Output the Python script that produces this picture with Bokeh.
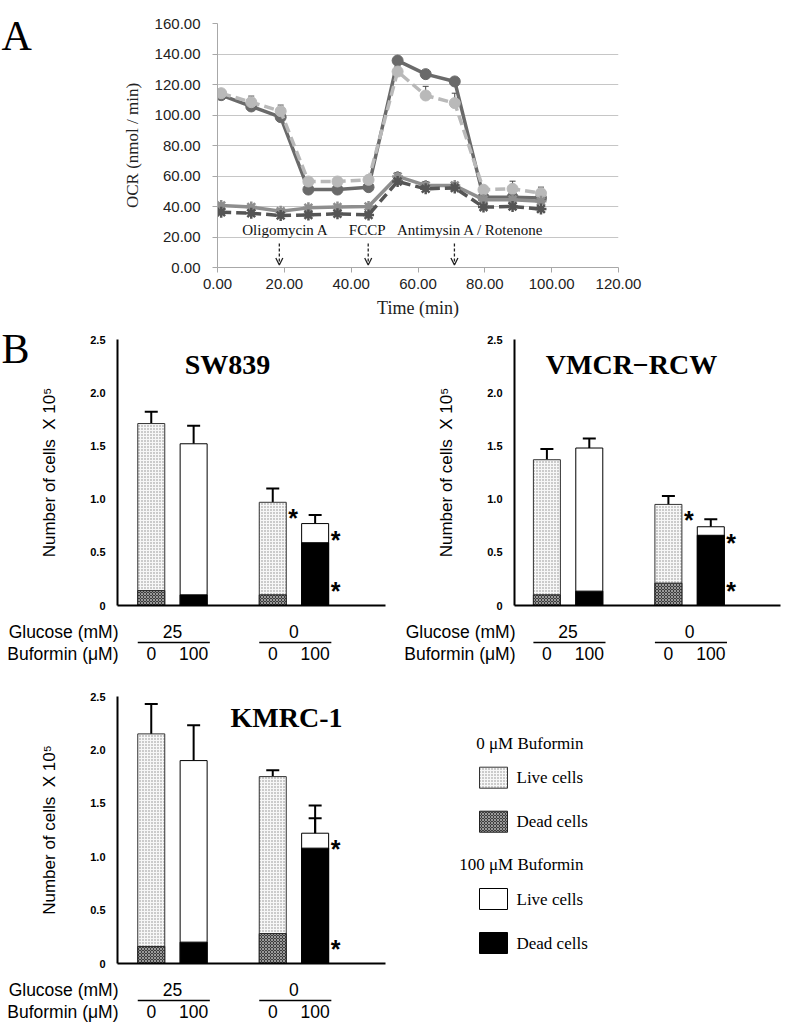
from bokeh.plotting import figure
from bokeh.layouts import column, row
from bokeh.models import (Range1d, FixedTicker, SingleIntervalTicker, Label, Arrow, OpenHead,
                          Whisker, TeeHead, ColumnDataSource, PrintfTickFormatter)
from bokeh.core.properties import value
from bokeh.embed import file_html
from bokeh.resources import INLINE

SERIF = "Liberation Serif"
SANS = "Liberation Sans"

# ---------------- Panel A data (OCR time course) ----------------
time_min = [1.1, 10.1, 18.9, 27.2, 35.9, 45.2, 53.9, 62.3, 71.0, 79.6, 88.3, 96.8]
ocr_dark = [113.0, 105.6, 98.6, 51.1, 51.1, 52.7, 135.7, 126.8, 122.0, 46.0, 46.0, 45.5]
ocr_dark_err = [2.0, 2.0, 2.0, 1.5, 1.5, 1.5, 2.0, 2.0, 2.5, 1.5, 1.5, 1.5]
ocr_light = [114.3, 108.4, 102.5, 56.4, 56.4, 57.5, 128.5, 112.8, 107.8, 51.0, 51.6, 48.7]
ocr_light_err = [2.0, 4.0, 4.0, 2.0, 2.0, 2.0, 3.0, 6.0, 6.5, 2.0, 5.0, 4.0]
ocr_xsolid = [40.7, 39.6, 36.9, 39.1, 39.6, 40.0, 59.7, 53.8, 53.8, 44.5, 44.5, 43.5]
ocr_xsolid_err = [1.5, 1.5, 1.5, 1.5, 1.5, 1.5, 2.5, 2.5, 2.0, 1.5, 2.0, 2.0]
ocr_xdash = [36.3, 35.6, 34.1, 34.5, 35.2, 34.5, 56.4, 51.6, 52.2, 39.6, 40.0, 38.3]
ocr_xdash_err = [1.0, 1.0, 1.0, 1.0, 1.0, 1.0, 1.5, 1.5, 1.5, 1.0, 1.0, 1.0]

inj_names = ["Oligomycin A", "FCCP", "Antimysin A / Rotenone"]
inj_times = [18.5, 45.1, 70.9]
inj_text_x = [20.3, 44.8, 75.7]

# ---------------- Panel B data (cell counts x 10^5) ----------------
glucose_mM = ["25", "25", "0", "0"]
buformin_uM = ["0", "100", "0", "100"]
y_ticks = [0, 0.5, 1.0, 1.5, 2.0, 2.5]
y_tick_labels = ["0", "0.5", "1.0", "1.5", "2.0", "2.5"]

sw839_total = [1.71, 1.52, 0.97, 0.77]
sw839_total_err = [0.11, 0.17, 0.13, 0.08]
sw839_dead = [0.14, 0.10, 0.10, 0.59]
sw839_dead_err = [0.03, 0.05, 0.03, 0.045]
sw839_sig_total = [False, False, True, True]
sw839_sig_dead = [False, False, False, True]

vmcr_total = [1.37, 1.48, 0.95, 0.74]
vmcr_total_err = [0.10, 0.09, 0.08, 0.07]
vmcr_dead = [0.10, 0.135, 0.21, 0.66]
vmcr_dead_err = [0.02, 0.04, 0.05, 0.06]
vmcr_sig_total = [False, False, True, True]
vmcr_sig_dead = [False, False, False, True]

kmrc_total = [2.15, 1.90, 1.75, 1.22]
kmrc_total_err = [0.28, 0.33, 0.06, 0.26]
kmrc_dead = [0.16, 0.20, 0.28, 1.08]
kmrc_dead_err = [0.025, 0.08, 0.05, 0.28]
kmrc_sig_total = [False, False, False, True]
kmrc_sig_dead = [False, False, False, True]

legend_heads = ["0 \u03bcM Buformin", "100 \u03bcM Buformin"]
legend_labels = ["Live cells", "Dead cells"]

COMMON = dict(output_backend="svg", toolbar_location=None)


def box(p):
    """Wrap a figure so that sibling figures do not get their frames aligned."""
    return column(p)


def blank_fig(width, height):
    """Figure whose frame fills the whole canvas; coordinates are pixels (y downwards)."""
    p = figure(width=width, height=height, x_range=Range1d(0, width), y_range=Range1d(height, 0),
               x_axis_location=None, y_axis_location=None, min_border=0, **COMMON)
    p.outline_line_color = None
    p.grid.grid_line_color = None
    return p


def letter_fig(letter, width, height, x, top):
    p = blank_fig(width, height)
    p.text(x=[x], y=[top], text=[letter], text_font=value(SERIF), text_font_size="42px",
           text_baseline="top", text_align="left", text_color="black")
    return p


# ---------------- Panel A ----------------
pA = figure(width=746, height=325, x_range=Range1d(0, 120), y_range=Range1d(0, 160),
            min_border_left=177, min_border_right=168, min_border_top=23, min_border_bottom=58,
            **COMMON)
pA.outline_line_color = None
pA.xgrid.grid_line_color = None
pA.ygrid.grid_line_color = "#c6c6c6"
pA.xaxis.ticker = SingleIntervalTicker(interval=20)
pA.yaxis.ticker = SingleIntervalTicker(interval=20)
pA.ygrid.ticker = SingleIntervalTicker(interval=20)
for ax in (pA.xaxis[0], pA.yaxis[0]):
    ax.axis_line_color = "#a8a8a8"
    ax.major_tick_line_color = "#a8a8a8"
    ax.major_tick_out = 5
    ax.major_tick_in = 0
    ax.minor_tick_line_color = None
    ax.formatter = PrintfTickFormatter(format="%.2f")
    ax.major_label_text_font = SANS
    ax.major_label_text_font_size = "15px"
    ax.major_label_text_color = "#222222"
    ax.axis_label_text_font = SERIF
    ax.axis_label_text_font_style = "normal"
    ax.axis_label_text_color = "#222222"
pA.xaxis.axis_label = "Time (min)"
pA.xaxis.axis_label_text_font_size = "18px"
pA.xaxis.major_label_standoff = 6
pA.xaxis.axis_label_standoff = 6
pA.yaxis.axis_label = "OCR (nmol / min)"
pA.yaxis.axis_label_text_font_size = "17px"
pA.yaxis.major_label_standoff = 12
pA.yaxis.axis_label_standoff = 10

series = [
    (ocr_dark, ocr_dark_err, "#6a6a6a", "solid", "circle"),
    (ocr_light, ocr_light_err, "#b9b9b9", "10 5", "circle"),
    (ocr_xsolid, ocr_xsolid_err, "#8e8e8e", "solid", "asterisk"),
    (ocr_xdash, ocr_xdash_err, "#555555", "10 5", "asterisk"),
]
for vals, errs, col, dash, mk in series:
    src = ColumnDataSource(dict(x=time_min, y=vals, hi=[v + e for v, e in zip(vals, errs)]))
    pA.add_layout(Whisker(source=src, base="x", lower="y", upper="hi", line_color="#444444",
                          line_width=1, lower_head=None,
                          upper_head=TeeHead(size=6, line_color="#444444", line_width=1)))
    pA.line("x", "y", source=src, line_color=col, line_width=3.5, line_dash=dash)
    if mk == "circle":
        pA.scatter("x", "y", source=src, marker="circle", size=11, fill_color=col, line_color=col)
    else:
        pA.scatter("x", "y", source=src, marker="asterisk", size=11, line_color=col, line_width=2.5)

arrow_top, arrow_bottom, inj_text_y = 15.7, 1.6, 24.3
for name, t, tx in zip(inj_names, inj_times, inj_text_x):
    pA.add_layout(Arrow(x_start=t, y_start=arrow_top, x_end=t, y_end=arrow_bottom,
                        line_dash="3 2", line_width=1.3, line_color="#222222",
                        end=OpenHead(size=7, line_width=1.3, line_color="#222222")))
    pA.add_layout(Label(x=tx, y=inj_text_y, text=name, text_align="center", text_baseline="middle",
                        text_font=SERIF, text_font_size="15px", text_color="#111111"))

rowA = row(box(letter_fig("A", 40, 325, 1, 12)), box(pA))

# ---------------- Panel B ----------------
BAR_W = 1.0
BAR_STEP = 1.57
GROUP_STEP = 4.5
PX = 27.0            # pixels per bar-width unit
AX_GAP = 8           # bottom border of bar figures (px)


def bar_x(i):
    return (i // 2) * GROUP_STEP + (i % 2) * BAR_STEP


live0_style = dict(fill_color="#f7f7f7", hatch_pattern="dot", hatch_color="#8a8a8a",
                   hatch_scale=3, hatch_weight=1, line_color="#333333", line_width=1)
dead0_style = dict(fill_color="#3c3c3c", hatch_pattern="diagonal_cross", hatch_color="#9a9a9a",
                   hatch_scale=3, hatch_weight=1, line_color="#222222", line_width=1)
live100_style = dict(fill_color="white", line_color="black", line_width=1)
dead100_style = dict(fill_color="black", line_color="black", line_width=1)
styles = {"0": (live0_style, dead0_style), "100": (live100_style, dead100_style)}


def bar_panel(title, total, total_err, dead, dead_err, sig_total, sig_dead, *,
              width, left, right, top, frame_h, x_start, title_xy):
    frame_w = width - left - right
    ymax = y_ticks[-1]
    p = figure(width=width, height=top + frame_h + AX_GAP,
               x_range=Range1d(x_start, x_start + frame_w / PX), y_range=Range1d(0, ymax),
               min_border_left=left, min_border_right=right, min_border_top=top,
               min_border_bottom=AX_GAP, **COMMON)
    p.outline_line_color = None
    p.grid.grid_line_color = None
    ya = p.yaxis[0]
    ya.ticker = FixedTicker(ticks=y_ticks)
    ya.major_label_overrides = dict(zip(y_ticks, y_tick_labels))
    ya.major_tick_out = 0
    ya.major_tick_in = 0
    ya.minor_tick_line_color = None
    ya.axis_line_width = 2
    ya.axis_line_color = "black"
    ya.major_label_text_font = SANS
    ya.major_label_text_font_style = "bold"
    ya.major_label_text_font_size = "11px"
    ya.major_label_text_color = "black"
    ya.major_label_standoff = 12
    ya.axis_label = "Number of cells\u00a0 X 10\u2075"
    ya.axis_label_text_font = SANS
    ya.axis_label_text_font_style = "normal"
    ya.axis_label_text_font_size = "17px"
    ya.axis_label_text_color = "black"
    ya.axis_label_standoff = 28
    xa = p.xaxis[0]
    xa.ticker = FixedTicker(ticks=[])
    xa.axis_line_width = 2
    xa.axis_line_color = "black"
    xa.minor_tick_line_color = None
    xa.major_tick_line_color = None
    xa.major_label_standoff = 0

    for dose, (lst, dst) in styles.items():
        idx = [i for i, d in enumerate(buformin_uM) if d == dose]
        xs = [bar_x(i) for i in idx]
        p.vbar(x=xs, top=[total[i] for i in idx], bottom=0, width=BAR_W, **lst)
        p.vbar(x=xs, top=[dead[i] for i in idx], bottom=0, width=BAR_W, **dst)

    xs_all = [bar_x(i) for i in range(len(total))]
    for vals, errs in ((total, total_err), (dead, dead_err)):
        src = ColumnDataSource(dict(x=xs_all, lo=vals, hi=[v + e for v, e in zip(vals, errs)]))
        p.add_layout(Whisker(source=src, base="x", lower="lo", upper="hi", line_color="black",
                             line_width=2, lower_head=None,
                             upper_head=TeeHead(size=13, line_color="black", line_width=2)))

    st_x = [bar_x(i) + BAR_W / 2 for i in range(len(total)) if sig_total[i]]
    st_y = [total[i] for i in range(len(total)) if sig_total[i]]
    p.text(x=st_x, y=st_y, text=["*"] * len(st_x), text_font=value(SANS), text_font_size="25px",
           text_font_style="bold", text_align="left", text_baseline="top", x_offset=2, y_offset=2,
           text_color="black")
    sd_x = [bar_x(i) + BAR_W / 2 for i in range(len(dead)) if sig_dead[i]]
    p.text(x=sd_x, y=[0] * len(sd_x), text=["*"] * len(sd_x), text_font=value(SANS),
           text_font_size="25px", text_font_style="bold", text_align="left",
           text_baseline="bottom", x_offset=2, y_offset=-1, text_color="black")

    p.add_layout(Label(x=title_xy[0], y=title_xy[1], x_units="screen", y_units="screen",
                       text=title, text_font=SERIF, text_font_style="bold",
                       text_font_size="28px", text_align="center", text_baseline="middle",
                       text_color="black"))
    return p


def condition_strip(width, frame_left, x_start, height):
    """Glucose / Buformin condition rows under a bar panel, on the same x scale.
    y is pixels relative to the bar panel's x axis (negative = below)."""
    p = figure(width=width, height=height,
               x_range=Range1d(x_start - frame_left / PX, x_start + (width - frame_left) / PX),
               y_range=Range1d(-(AX_GAP + height), -AX_GAP),
               x_axis_location=None, y_axis_location=None, min_border=0, **COMMON)
    p.outline_line_color = None
    p.grid.grid_line_color = None
    txt = dict(text_font=value(SANS), text_font_size="17.5px", text_baseline="middle",
               text_color="black")
    row1, row_line, row2 = -26, -37, -48
    p.text(x=[x_start, x_start], y=[row1, row2], text=["Glucose (mM)", "Buformin (\u03bcM)"],
           text_align="right", x_offset=1, **txt)
    gx = [(bar_x(2 * g) + bar_x(2 * g + 1)) / 2 for g in range(2)]
    p.text(x=gx, y=[row1] * 2, text=[glucose_mM[2 * g] for g in range(2)], text_align="center",
           **txt)
    p.segment(x0=[bar_x(2 * g) - BAR_W / 2 for g in range(2)], y0=[row_line] * 2,
              x1=[bar_x(2 * g + 1) + BAR_W * 0.6 for g in range(2)], y1=[row_line] * 2,
              line_color="black", line_width=1.5)
    p.text(x=[bar_x(i) for i in range(4)], y=[row2] * 4, text=buformin_uM, text_align="center",
           **txt)
    return p


p_sw = bar_panel("SW839", sw839_total, sw839_total_err, sw839_dead, sw839_dead_err,
                 sw839_sig_total, sw839_sig_dead, width=365, left=82, right=15, top=14,
                 frame_h=266, x_start=-1.25, title_xy=(110, 241))
p_vm = bar_panel("VMCR\u2212RCW", vmcr_total, vmcr_total_err, vmcr_dead, vmcr_dead_err,
                 vmcr_sig_total, vmcr_sig_dead, width=386, left=114, right=6, top=14,
                 frame_h=266, x_start=-1.2, title_xy=(117, 241))
p_km = bar_panel("KMRC-1", kmrc_total, kmrc_total_err, kmrc_dead, kmrc_dead_err,
                 kmrc_sig_total, kmrc_sig_dead, width=400, left=117, right=15, top=31,
                 frame_h=267, x_start=-1.25, title_xy=(169, 246))

s_sw = condition_strip(400, 117, -1.25, 52)
s_vm = condition_strip(386, 114, -1.2, 52)
s_km = condition_strip(400, 117, -1.25, 57)

left2 = column(row(box(letter_fig("B", 35, 288, 1, 0)), box(p_sw)), box(s_sw))
right2 = column(box(p_vm), box(s_vm))
left3 = column(box(p_km), box(s_km))

# ---------------- Legend panel (pixel layout) ----------------
pL = blank_fig(386, 365)
SW_L, SW_W, SW_H, TXT_GAP = 79, 28, 21, 9
group_tops = [101.7, 223.0]
ITEM_STEP = 44
swatch_styles = [(live0_style, dead0_style), (live100_style, dead100_style)]
for head, top0, (lst, dst) in zip(legend_heads, group_tops, swatch_styles):
    pL.text(x=[SW_L + 104], y=[top0 - 24], text=[head], text_font=value(SERIF),
            text_font_size="17px", text_align="right", text_baseline="middle", text_color="black")
    for k, (lab, stl) in enumerate(zip(legend_labels, (lst, dst))):
        t = top0 + k * ITEM_STEP
        pL.quad(left=[SW_L], right=[SW_L + SW_W], top=[t], bottom=[t + SW_H], **stl)
        pL.text(x=[SW_L + SW_W + TXT_GAP], y=[t + SW_H / 2], text=[lab], text_font=value(SERIF),
                text_font_size="17px", text_align="left", text_baseline="middle",
                text_color="black")

layout = column(rowA, row(left2, right2), row(left3, box(pL)))
open("out.html", "w").write(file_html(layout, INLINE))
